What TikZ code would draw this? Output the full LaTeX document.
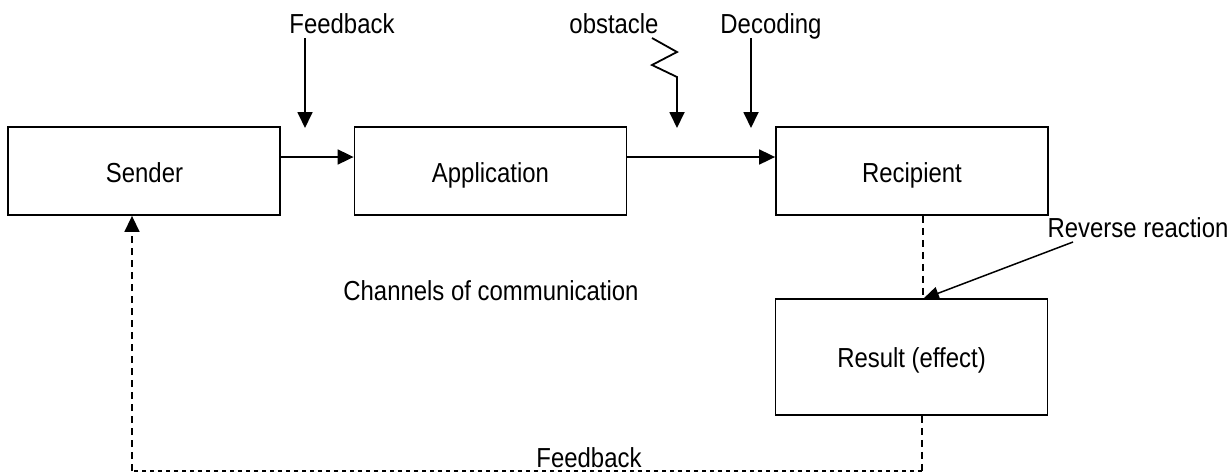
\documentclass[tikz,border=0pt]{standalone}
\usepackage{fontspec}
\setmainfont{Liberation Sans}[FakeStretch=0.87]
\usetikzlibrary{arrows.meta}
\begin{document}
\begin{tikzpicture}[x=1pt,y=-1pt,
  box/.style={draw,line width=1.8pt,minimum width=272pt,minimum height=88pt,inner sep=0pt},
  lbl/.style={font=\fontsize{27.5}{32}\selectfont,inner sep=0pt,anchor=base},
  conn/.style={line width=1.8pt,-{Triangle[length=16pt,width=15pt]}},
  dline/.style={line width=1.5pt,dash pattern=on 7pt off 5pt},
  dotline/.style={line width=1.5pt,dash pattern=on 4.5pt off 3.5pt}]
\useasboundingbox (0,0) rectangle (1232,475);
% boxes
\node[box] (snd) at (144,171) {};
\node[box] (app) at (490.5,171) {};
\node[box] (rec) at (912,171) {};
\node[box,minimum height=116pt] (res) at (911.5,357) {};
% labels
\node[lbl] (tsnd) at (144.5,182) {Sender};
\node[lbl] (tapp) at (490.5,182) {Application};
\node[lbl] (trec) at (912,182) {Recipient};
\node[lbl] (tres) at (911.5,367) {Result (effect)};
\node[lbl] (tfb1) at (342,33) {Feedback};
\node[lbl] (tobs) at (614,33) {obstacle};
\node[lbl] (tdec) at (771,33) {Decoding};
\node[lbl] (trev) at (1138,237) {Reverse reaction};
\node[lbl] (tch) at (491,300) {Channels of communication};
\node[lbl] (tfb2) at (589,467) {Feedback};
% coordinates
\coordinate (fbs) at (305,38);
\coordinate (fbe) at (305,128);
\coordinate (obs) at (652,38);
\coordinate (obe) at (677,128);
\coordinate (dcs) at (751,38);
\coordinate (dce) at (751,128);
\coordinate (rvs) at (1073,242);
\coordinate (rve) at (923,299);
% main flow
\draw[conn] (snd.east |- 0,157) -- (app.west |- 0,157);
\draw[conn] (app.east |- 0,157) -- (rec.west |- 0,157);
% top arrows
\draw[conn,line join=miter] (fbs) -- (fbe);
\draw[conn,line join=miter] (obs) -- (677,52) -- (652,65) -- (677,77) -- (obe);
\draw[conn] (dcs) -- (dce);
% reverse reaction
\draw[dline] (rec.south -| rve) -- (rve);
\draw[line width=1.5pt,-{Triangle[length=16pt,width=13pt]}] (rvs) -- (rve);
% bottom feedback
\draw[dline] (res.south -| 922,0) -- (922,471);
\draw[dotline] (922,471) -- (132,471);
\draw[dline,-{Triangle[length=16pt,width=15pt]}] (132,471) -- (snd.south -| 132,0);
\end{tikzpicture}
\end{document}
